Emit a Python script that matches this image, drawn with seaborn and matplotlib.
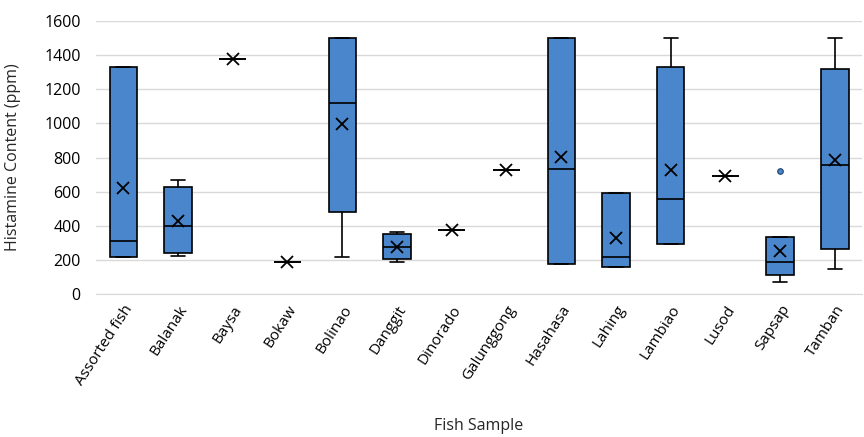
import pandas as pd
import matplotlib
matplotlib.use("Agg")
import matplotlib.pyplot as plt
import seaborn as sns

# values (ppm)
fish = ['Assorted fish', 'Balanak', 'Baysa', 'Bokaw', 'Bolinao', 'Danggit', 'Dinorado',
        'Galunggong', 'Hasahasa', 'Lahing', 'Lambiao', 'Lusod', 'Sapsap', 'Tamban']
lows    = [219, 223, 1376, 189, 219, 189, 375, 727, 174, 160, 293, 693, 72, 148]
q1s     = [219, 238, 1376, 189, 482, 203, 375, 727, 174, 160, 293, 693, 110, 262]
medians = [312, 400, 1376, 189, 1121, 274, 375, 727, 731, 219, 557, 693, 189, 756]
q3s     = [1329, 629, 1376, 189, 1499, 352, 375, 727, 1499, 594, 1329, 693, 336, 1317]
highs   = [1329, 668, 1376, 189, 1499, 365, 375, 727, 1499, 594, 1499, 693, 723, 1499]
means   = [620, 428, 1376, 189, 996, 277, 375, 727, 805, 326, 727, 693, 254, 785]

# long table so seaborn builds the boxes itself
rows = []
for i, f in enumerate(fish):
    for v in (lows[i], q1s[i], medians[i], q3s[i], highs[i]):
        rows.append({'Fish Sample': f, 'Histamine': v})
data = pd.DataFrame(rows)

sns.set_style('white')
plt.rcParams['font.family'] = ['Open Sans', 'DejaVu Sans']

fig, ax = plt.subplots(figsize=(8.64, 4.37), dpi=100)
blue = '#4A86CC'

sns.boxplot(data=data, x='Fish Sample', y='Histamine', order=fish, color=blue,
            saturation=1, width=0.5, whis=1.5, linewidth=1.2, linecolor='black',
            flierprops=dict(marker='o', markersize=4, markerfacecolor=blue,
                            markeredgecolor='#1f3f66', markeredgewidth=0.8),
            ax=ax, zorder=3)

# mean markers
sns.pointplot(x=fish, y=means, order=fish, color='black', markers='x',
              linestyles='none', errorbar=None, ax=ax, zorder=4,
              markersize=9, markeredgewidth=1.3)

ax.set_ylim(0, 1600)
ax.set_yticks(range(0, 1601, 200))
ax.set_xlim(-0.5, len(fish) - 0.5)
ax.yaxis.grid(True, color='#d9d9d9', linewidth=1)
ax.set_axisbelow(True)
for s in ['top', 'right', 'left']:
    ax.spines[s].set_visible(False)
ax.spines['bottom'].set_color('#d9d9d9')
ax.tick_params(axis='y', length=0, labelsize=11.5, colors='black', pad=11)
ax.tick_params(axis='x', length=0, labelsize=11, colors='black', pad=6)
plt.setp(ax.get_xticklabels(), rotation=57, ha='right', rotation_mode='anchor')

ax.set_xlabel('Fish Sample', fontsize=11.5)
ax.set_ylabel('Histamine Content (ppm)', fontsize=11.5)
ax.xaxis.set_label_coords(0.5, -0.455)
ax.yaxis.set_label_coords(-0.098, 0.5)

fig.subplots_adjust(left=0.111, right=0.998, top=0.952, bottom=0.327)
fig.savefig('out.png', dpi=100)
